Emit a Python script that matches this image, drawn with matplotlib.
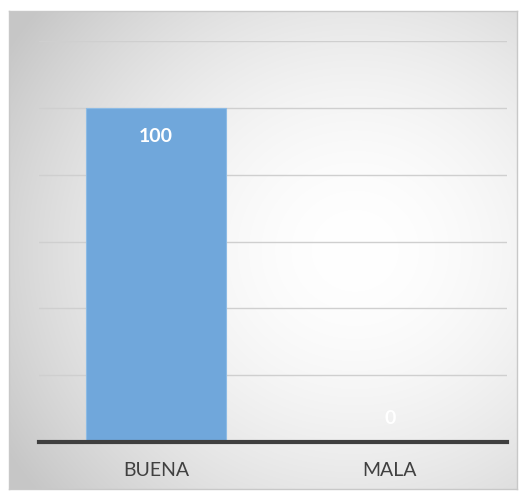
import numpy as np
import matplotlib.pyplot as plt

categories = ['BUENA', 'MALA']
values = [100, 0]
y_ticks = [0, 20, 40, 60, 80, 100, 120]

W, H = 526, 499
fig = plt.figure(figsize=(W / 100, H / 100), dpi=100)
fig.patch.set_facecolor('white')

# chart frame with radial gradient (Excel style)
fx0, fy0, fx1, fy1 = 9, 11, 517, 489
bg = fig.add_axes([fx0 / W, 1 - fy1 / H, (fx1 - fx0) / W, (fy1 - fy0) / H])
ny, nx = 300, 320
yy, xx = np.mgrid[0:ny, 0:nx]
cx, cy = 0.68 * nx, 0.5 * ny
r = np.sqrt(((xx - cx) / nx) ** 2 + ((yy - cy) / ny) ** 2) / 0.8
r = np.clip(r, 0, 1)
shade = 1.0 - 0.22 * r ** 1.8
img = np.dstack([shade, shade, shade])
bg.imshow(img, aspect='auto', extent=[0, 1, 0, 1], interpolation='bilinear')
bg.set_xlim(0, 1)
bg.set_ylim(0, 1)
bg.set_xticks([])
bg.set_yticks([])
for s in bg.spines.values():
    s.set_color('#c8c8c8')
    s.set_linewidth(1)

# plot area
px0, py0, px1, py1 = 39, 41, 507, 442
ax = fig.add_axes([px0 / W, 1 - py1 / H, (px1 - px0) / W, (py1 - py0) / H])
ax.patch.set_alpha(0)
x = np.arange(len(categories))
bars = ax.bar(x, values, width=0.6, color='#70a7db', edgecolor='#8dbbe5',
              linewidth=0.8, zorder=2)
ax.set_xlim(-0.5, len(categories) - 0.5)
ax.set_ylim(y_ticks[0], y_ticks[-1])
ax.set_yticks(y_ticks)
ax.yaxis.grid(True, color='#cfcfcf', linewidth=1, zorder=0)
ax.tick_params(axis='y', left=False, labelleft=False)
ax.tick_params(axis='x', bottom=False, pad=11)
ax.set_xticks(x)
ax.set_xticklabels(categories, fontsize=14, color='#404040', family='Lato')
for s in ['top', 'left', 'right']:
    ax.spines[s].set_visible(False)
ax.spines['bottom'].set_color('#3f3f3f')
ax.spines['bottom'].set_linewidth(3)
ax.spines['bottom'].set_zorder(3)

for xi, v in zip(x, values):
    off = -21 if v > 0 else 17
    ax.annotate(str(v), (xi, v), xytext=(0, off), textcoords='offset points',
                ha='center', va='center', color='white', fontsize=14,
                fontweight='bold', family='Lato', zorder=4)

fig.savefig('out.png', dpi=100)
